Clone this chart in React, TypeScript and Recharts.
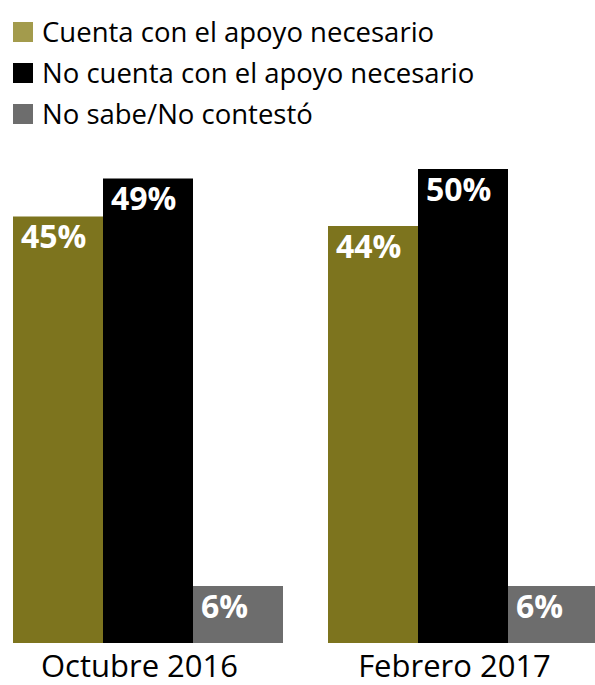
import React from "react";
import { BarChart, Bar, XAxis, YAxis, LabelList } from "recharts";

const categories = ["Octubre 2016", "Febrero 2017"];
const cuentaConApoyo = [45, 44];
const noCuentaConApoyo = [49, 50];
const noSabe = [6, 6];

const seriesNames = [
  "Cuenta con el apoyo necesario",
  "No cuenta con el apoyo necesario",
  "No sabe/No contestó",
];
const barColors = ["#7d741e", "#000000", "#6d6d6d"];
const legendColors = ["#a39b4c", "#000000", "#6d6d6d"];

const data = categories.map((c, i) => ({
  name: c,
  a: cuentaConApoyo[i],
  b: noCuentaConApoyo[i],
  c: noSabe[i],
}));

const FONT = "'Open Sans', sans-serif";

// white bold value, left aligned near the top of the bar
const renderValue = (props: any) => {
  const { x, y, value } = props;
  return (
    <text
      x={x + 8}
      y={y + 32}
      fill="#fff"
      fontFamily={FONT}
      fontWeight={700}
      fontSize={32}
    >
      {value}%
    </text>
  );
};

const CategoryTick = (props: any) => {
  const { x, y, payload } = props;
  return (
    <text
      x={x - 8}
      y={y + 26}
      textAnchor="middle"
      fill="#000"
      fontFamily={FONT}
      fontSize={31}
    >
      {payload.value}
    </text>
  );
};

export default function App() {
  return (
    <div
      style={{
        position: "fixed",
        left: 0,
        top: 0,
        width: 660,
        height: 685,
        overflow: "hidden",
        background: "#fff",
      }}
    >
      <style>{"html,body{margin:0;overflow:hidden}"}</style>
      {/* legend */}
      <div style={{ position: "absolute", left: 13, top: 11, fontFamily: FONT }}>
        {seriesNames.map((s, i) => (
          <div
            key={s}
            style={{ display: "flex", alignItems: "center", height: 41 }}
          >
            <span
              style={{
                width: 20,
                height: 20,
                background: legendColors[i],
                display: "inline-block",
                marginRight: 9,
              }}
            />
            <span style={{ fontSize: 27.5, color: "#000" }}>{s}</span>
          </div>
        ))}
      </div>

      <BarChart
        width={630}
        height={685}
        data={data}
        margin={{ top: 169, right: 0, bottom: 0, left: 0 }}
        barCategoryGap={23}
        barGap={0}
        style={{ position: "absolute", left: -10, top: 0 }}
      >
        <XAxis
          dataKey="name"
          axisLine={false}
          tickLine={false}
          height={42}
          interval={0}
          tick={<CategoryTick />}
        />
        <YAxis hide domain={[0, 50]} />
        <Bar dataKey="a" fill={barColors[0]} isAnimationActive={false}>
          <LabelList dataKey="a" content={renderValue} />
        </Bar>
        <Bar dataKey="b" fill={barColors[1]} isAnimationActive={false}>
          <LabelList dataKey="b" content={renderValue} />
        </Bar>
        <Bar dataKey="c" fill={barColors[2]} isAnimationActive={false}>
          <LabelList dataKey="c" content={renderValue} />
        </Bar>
      </BarChart>
    </div>
  );
}
